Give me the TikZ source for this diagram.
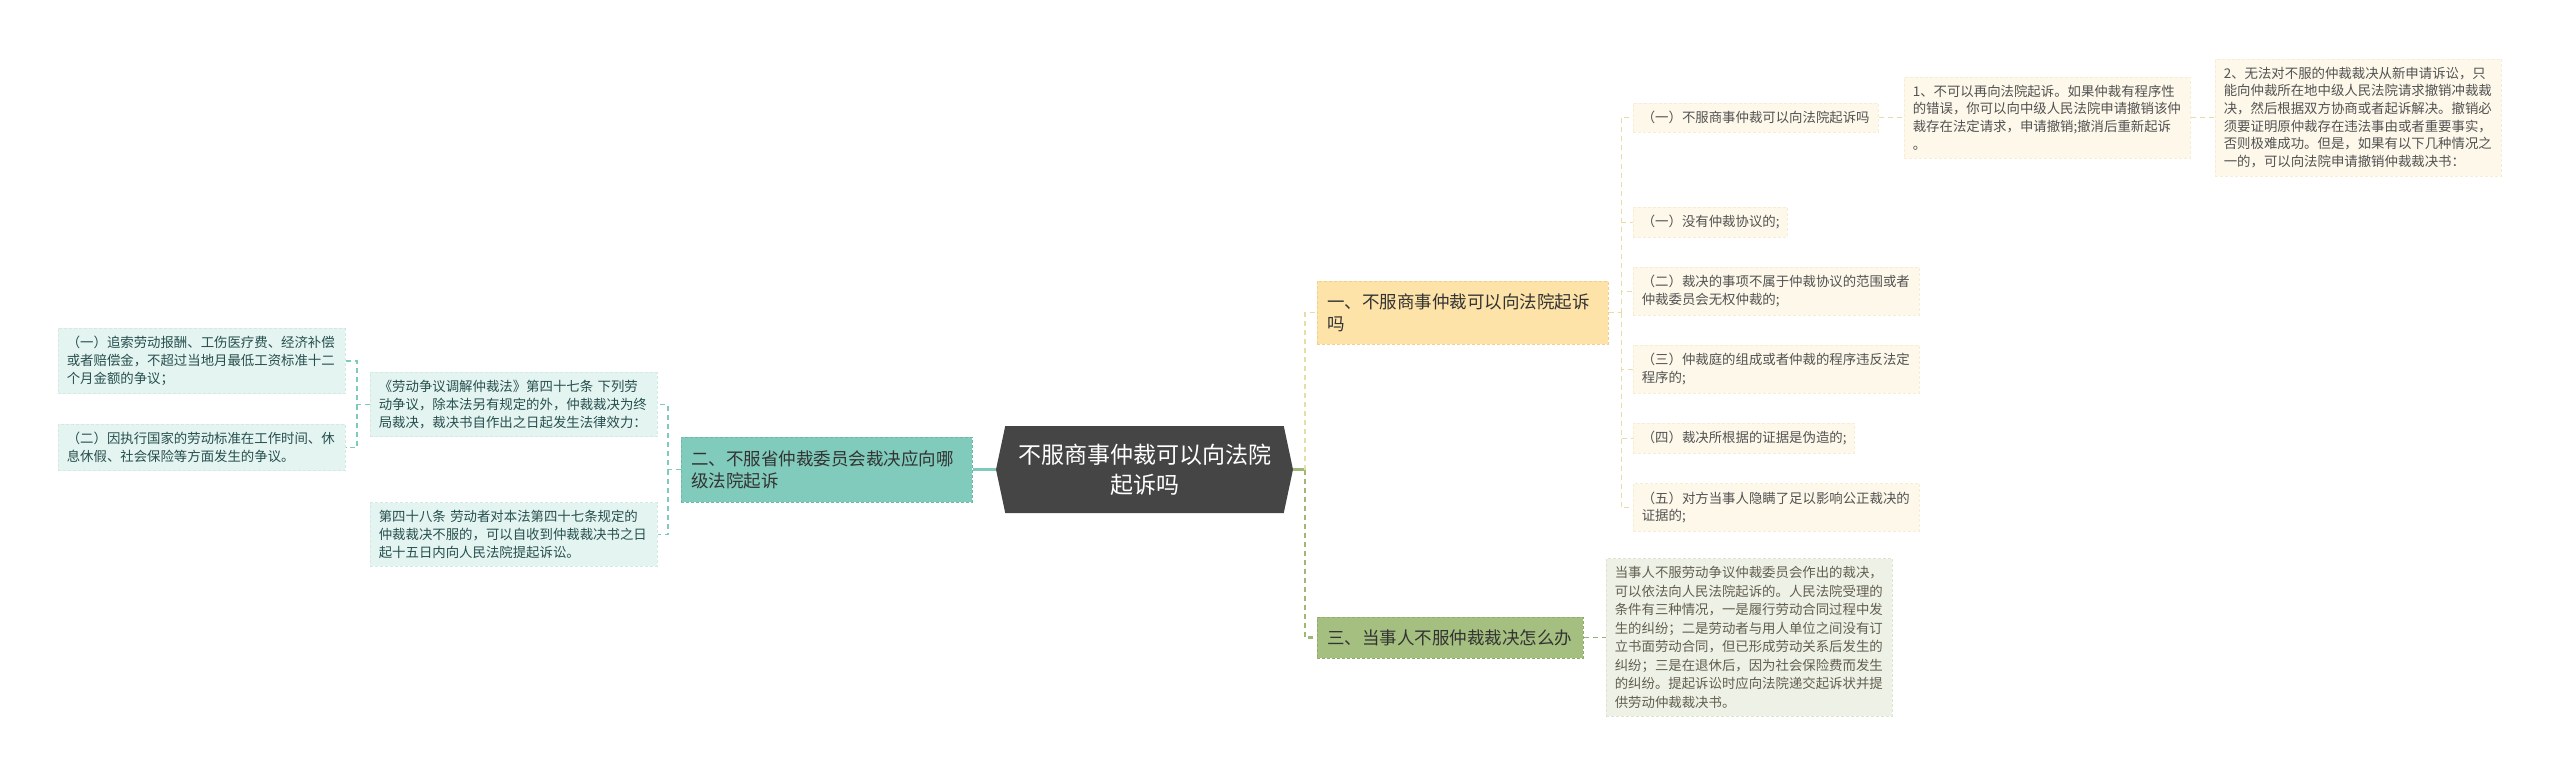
\documentclass[tikz,border=0pt]{standalone}
\usepackage{fontspec}
\setmainfont{Noto Sans CJK SC}
\usetikzlibrary{shapes.symbols}

\definecolor{hubgray}{HTML}{454545}
\definecolor{onefill}{HTML}{FDE3A8}
\definecolor{oneline}{HTML}{F2D08C}
\definecolor{twofill}{HTML}{80CBBC}
\definecolor{twoline}{HTML}{6CB8A9}
\definecolor{threefill}{HTML}{A4BF7F}
\definecolor{threeline}{HTML}{90AD6B}
\definecolor{creamfill}{HTML}{FDF8EA}
\definecolor{creamline}{HTML}{F6EDD2}
\definecolor{mintfill}{HTML}{E4F4F0}
\definecolor{mintline}{HTML}{D2EAE3}
\definecolor{sagefill}{HTML}{EEF1E6}
\definecolor{sageline}{HTML}{DCE3CF}
\definecolor{yellowlink}{HTML}{E9DCA6}
\definecolor{teallink}{HTML}{7FCABB}
\definecolor{greenlink}{HTML}{9DB877}

\begin{document}
\begin{tikzpicture}[x=1pt,y=-1pt,
    hub/.style={shape=signal, signal to=west and east, signal pointer angle=156,
      fill=hubgray, text=white, minimum width=297pt, minimum height=87pt, inner sep=0pt,
      align=center, font=\fontsize{23pt}{30pt}\selectfont},
    branch/.style={anchor=west, align=left, inner xsep=10pt, inner ysep=0pt,
      text=black!80, font=\fontsize{17.5pt}{21.7pt}\selectfont,
      draw, dash pattern=on 3pt off 2pt, line width=0.8pt},
    leaf/.style={anchor=west, align=left, inner xsep=8.5pt, inner ysep=8pt,
      font=\fontsize{13.4pt}{17.7pt}\selectfont,
      draw, dash pattern=on 3pt off 2pt, line width=0.6pt},
    cream/.style={leaf, fill=creamfill, draw=creamline, text=black!68},
    mint/.style={leaf, fill=mintfill, draw=mintline, text=black!55!teal!70!gray},
    sage/.style={leaf, fill=sagefill, draw=sageline, text=black!70!olive!60!gray,
      font=\fontsize{13.4pt}{18.5pt}\selectfont},
    yellowdash/.style={draw=yellowlink, line width=1.4pt, dash pattern=on 5pt off 4pt},
    tealdash/.style={draw=teallink, line width=1.2pt, dash pattern=on 5pt off 4pt},
    greendash/.style={draw=greenlink, line width=2.2pt, dash pattern=on 5pt off 4pt},
    creamdash/.style={draw=yellowlink, line width=1pt, dash pattern=on 5pt off 4pt}]

    \useasboundingbox (0,0) rectangle (2560,773);

    \node[hub] (hub) at (1144.5,469.5) {不服商事仲裁可以向法院\\起诉吗};

    % left side
    \node[branch, fill=twofill, draw=twoline, text width=271pt, minimum height=65pt] (br2) at (681,469.5)
      {二、不服省仲裁委员会裁决应向哪\\级法院起诉};
    \node[mint, text width=270pt] (law47) at (370,404.5)
      {《劳动争议调解仲裁法》第四十七条 下列劳\\动争议，除本法另有规定的外，仲裁裁决为终\\局裁决，裁决书自作出之日起发生法律效力：};
    \node[mint, text width=270pt] (law48) at (370,534.5)
      {第四十八条 劳动者对本法第四十七条规定的\\仲裁裁决不服的，可以自收到仲裁裁决书之日\\起十五日内向人民法院提起诉讼。};
    \node[mint, text width=270pt] (item1) at (58,361)
      {（一）追索劳动报酬、工伤医疗费、经济补偿\\或者赔偿金，不超过当地月最低工资标准十二\\个月金额的争议；};
    \node[mint, text width=270pt] (item2) at (58,447.5)
      {（二）因执行国家的劳动标准在工作时间、休\\息休假、社会保险等方面发生的争议。};

    % right side
    \node[branch, fill=onefill, draw=oneline, text width=271pt, minimum height=63pt] (br1) at (1317,312.5)
      {一、不服商事仲裁可以向法院起诉\\吗};
    \node[branch, fill=threefill, draw=threeline, text width=246pt, minimum height=41pt] (br3) at (1317,637.5)
      {三、当事人不服仲裁裁决怎么办};

    \node[cream, text width=228pt] (q1) at (1633,117.5) {（一）不服商事仲裁可以向法院起诉吗};
    \node[cream, text width=269pt] (a1) at (1904,117.5)
      {1、不可以再向法院起诉。如果仲裁有程序性\\的错误，你可以向中级人民法院申请撤销该仲\\裁存在法定请求，申请撤销;撤消后重新起诉\\。};
    \node[cream, text width=269pt] (a2) at (2215,117.5)
      {2、无法对不服的仲裁裁决从新申请诉讼，只\\能向仲裁所在地中级人民法院请求撤销冲裁裁\\决，然后根据双方协商或者起诉解决。撤销必\\须要证明原仲裁存在违法事由或者重要事实，\\否则极难成功。但是，如果有以下几种情况之\\一的，可以向法院申请撤销仲裁裁决书：};
    \node[cream, text width=137pt] (c1) at (1633,222) {（一）没有仲裁协议的;};
    \node[cream, text width=269pt] (c2) at (1633,291)
      {（二）裁决的事项不属于仲裁协议的范围或者\\仲裁委员会无权仲裁的;};
    \node[cream, text width=269pt] (c3) at (1633,369)
      {（三）仲裁庭的组成或者仲裁的程序违反法定\\程序的;};
    \node[cream, text width=204pt] (c4) at (1633,438) {（四）裁决所根据的证据是伪造的;};
    \node[cream, text width=269pt] (c5) at (1633,507.5)
      {（五）对方当事人隐瞒了足以影响公正裁决的\\证据的;};

    \node[sage, text width=269pt] (ans3) at (1606,637.5)
      {当事人不服劳动争议仲裁委员会作出的裁决，\\可以依法向人民法院起诉的。人民法院受理的\\条件有三种情况，一是履行劳动合同过程中发\\生的纠纷；二是劳动者与用人单位之间没有订\\立书面劳动合同，但已形成劳动关系后发生的\\纠纷；三是在退休后，因为社会保险费而发生\\的纠纷。提起诉讼时应向法院递交起诉状并提\\供劳动仲裁裁决书。};

    % links
    \coordinate (jL) at (668,469.5);
    \coordinate (jLL) at (357,404.5);
    \coordinate (jR) at (1305,469.5);
    \coordinate (jA) at (1621,312.5);

    \draw[teallink, line width=2.4pt] (hub.west) -- (br2.east);
    \path[tealdash] (br2.west) -- (jL) |- (law47.east);
    \path[tealdash] (jL) |- (law48.east);
    \path[tealdash] (law47.west) -- (jLL) |- (item1.east);
    \path[tealdash] (jLL) |- (item2.east);

    \draw[greenlink, line width=2.4pt] (hub.east) -- (jR);
    \path[yellowdash] (jR) |- (br1.west);
    \path[greendash] (jR) |- (br3.west);
    \path[greendash, line width=1.2pt, draw=greenlink!80!gray] (br3.east) -- (ans3.west);

    \path[creamdash] (br1.east) -- (jA);
    \foreach \leafname in {q1,c1,c2,c3,c4,c5}
      \path[creamdash] (jA) |- (\leafname.west);
    \path[creamdash] (q1.east) -- (a1.west);
    \path[creamdash] (a1.east) -- (a2.west);
  \end{tikzpicture}
\end{document}
